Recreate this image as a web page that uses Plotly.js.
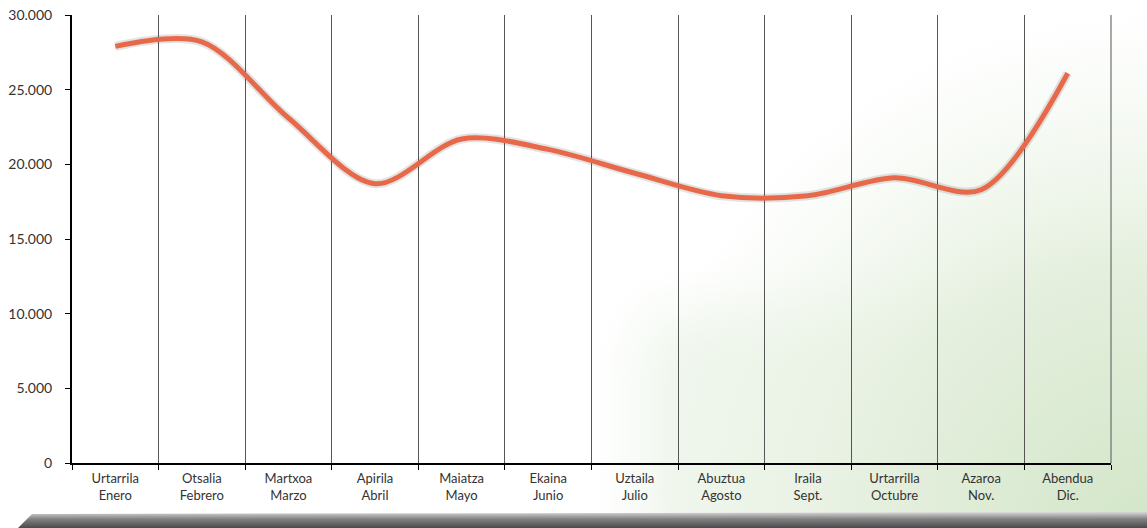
<!DOCTYPE html>
<html><head><meta charset="utf-8">
<script src="https://cdn.plot.ly/plotly-3.0.1.min.js"></script>
<style>html,body{margin:0;padding:0;background:#fff}#chart{width:1147px;height:528px}</style>
</head><body><div id="chart"></div>
<script>
const categories = ["Urtarrila<br>Enero","Otsalia<br>Febrero","Martxoa<br>Marzo","Apirila<br>Abril","Maiatza<br>Mayo","Ekaina<br>Junio","Uztaila<br>Julio","Abuztua<br>Agosto","Iraila<br>Sept.","Urtarrilla<br>Octubre","Azaroa<br>Nov.","Abendua<br>Dic."];
const values = [27900, 28200, 23100, 18700, 21700, 21000, 19400, 17900, 17900, 19100, 18300, 26100];
const yTicks = [0, 5000, 10000, 15000, 20000, 25000, 30000];

const bgSvg = '<svg xmlns="http://www.w3.org/2000/svg" width="1147" height="528">' +
 '<defs>' +
 '<filter id="b" x="-20%" y="-20%" width="140%" height="140%"><feGaussianBlur stdDeviation="30"/></filter>' +
 '<radialGradient id="g" cx="1147" cy="528" r="520" gradientUnits="userSpaceOnUse">' +
 '<stop offset="0" stop-color="#d3e6c9"/><stop offset="0.5" stop-color="#e4efdd"/><stop offset="1" stop-color="#eef5ea" stop-opacity="0"/></radialGradient>' +
 '<linearGradient id="s" x1="0" y1="0" x2="0" y2="1"><stop offset="0" stop-color="#d8d8d8"/><stop offset="0.45" stop-color="#808080"/><stop offset="1" stop-color="#4a4a4a"/></linearGradient>' +
 '</defs>' +
 '<rect x="640" y="310" width="560" height="260" rx="40" fill="#eff6ec" filter="url(#b)"/>' +
 '<rect x="0" y="0" width="1147" height="528" fill="url(#g)"/>' +
 '<path d="M18 528 L32 514 L1147 512 L1147 528 Z" fill="url(#s)"/>' +
 '</svg>';
const bgUri = 'data:image/svg+xml;charset=utf-8,' + encodeURIComponent(bgSvg);

const fam = 'Lato, "Open Sans", sans-serif';
const font = {family: fam, size: 13, color: '#333'};

const traces = [
 {x: categories, y: values, type: 'scatter', mode: 'lines', line: {shape: 'spline', smoothing: 0.9, width: 9, color: 'rgba(80,80,80,0.16)'}, hoverinfo: 'skip', showlegend: false},
 {x: categories, y: values, type: 'scatter', mode: 'lines', line: {shape: 'spline', smoothing: 0.9, width: 5, color: '#e8694a'}, showlegend: false}
];

const layout = {
 width: 1147, height: 528,
 margin: {l: 72, r: 36, t: 15, b: 65},
 paper_bgcolor: 'rgba(0,0,0,0)', plot_bgcolor: 'rgba(0,0,0,0)',
 separators: ',.',
 font: font,
 images: [{source: bgUri, xref: 'paper', yref: 'paper', x: -72/1039, y: 1 + 15/448, sizex: 1147/1039, sizey: 528/448, sizing: 'stretch', layer: 'below', xanchor: 'left', yanchor: 'top'}],
 xaxis: {type: 'category', range: [-0.5, 11.5], tickson: 'boundaries', showgrid: true, gridcolor: '#555', gridwidth: 1,
   ticks: 'outside', ticklen: 5, tickcolor: '#000', showline: true, linecolor: '#000', linewidth: 2,
   ticklabelstandoff: 2,
   tickfont: font, fixedrange: true},
 yaxis: {range: [0, 30000], tickvals: yTicks, tickformat: ',d', showgrid: false, zeroline: false,
   ticks: 'outside', ticklen: 5, tickcolor: '#000', showline: true, linecolor: '#000', linewidth: 2,
   ticklabelstandoff: 10,
   tickfont: {family: fam, size: 14, color: '#333'}, fixedrange: true},
 shapes: [{type: 'line', xref: 'paper', yref: 'paper', x0: 1, x1: 1, y0: 0, y1: 1, line: {color: '#555', width: 1}}]
};
Plotly.newPlot('chart', traces, layout, {displayModeBar: false, staticPlot: true});
</script></body></html>
